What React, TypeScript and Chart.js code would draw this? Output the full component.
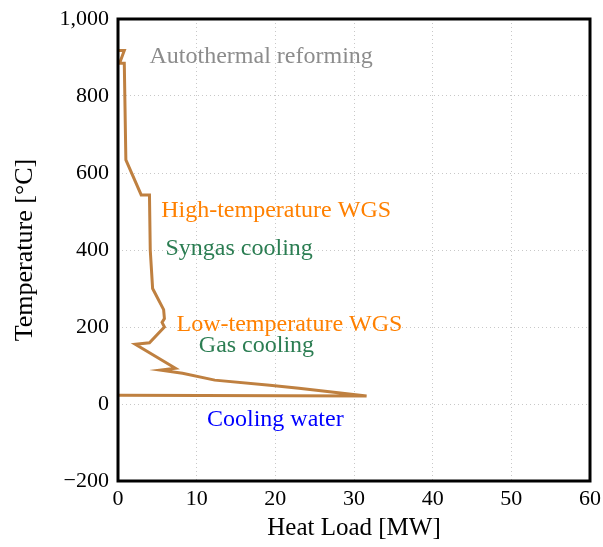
import React, { useEffect, useRef } from "react";
import { Chart, registerables } from "chart.js";

Chart.register(...registerables);

// Composite curve: heat load [MW] vs temperature [°C]
const heatLoad = [0.1, 0.8, 0.2, 0.8, 1.0, 2.95, 4.0, 4.1, 4.4, 5.8, 5.9, 5.6, 5.9, 4.0, 2.2, 7.3, 5.4, 8.2, 12.3, 19.3, 23.0, 31.6, 0.1];
const temperature = [918, 918, 885, 885, 634, 543, 543, 400, 300, 245, 222, 212, 200, 159, 155, 93, 88, 80, 62, 49, 41, 21, 23];

const xTicks = [0, 10, 20, 30, 40, 50, 60];
const yTicks = [-200, 0, 200, 400, 600, 800, 1000];

const labelTexts = ["Autothermal reforming", "High-temperature WGS", "Syngas cooling", "Low-temperature WGS", "Gas cooling", "Cooling water"];
const labelX = [18.2, 20.1, 15.4, 21.8, 17.6, 20.0];
const labelY = [901, 502, 403, 205, 151, -42];
const labelColors = ["#8c8c8c", "#ff8000", "#2b7d52", "#ff8000", "#2b7d52", "#0000ff"];

const FONT = "'Liberation Serif', 'DejaVu Serif', serif";

export default function App() {
  const ref = useRef<HTMLCanvasElement>(null);
  useEffect(() => {
    document.body.style.margin = "0";
    const canvas = ref.current!;
    const data = heatLoad.map((x, i) => ({ x, y: temperature[i] }));

    const annot = {
      id: "annot",
      afterDatasetsDraw(chart: any) {
        const { ctx, scales } = chart;
        ctx.save();
        ctx.font = `24px ${FONT}`;
        ctx.textAlign = "center";
        ctx.textBaseline = "middle";
        labelTexts.forEach((t, i) => {
          ctx.fillStyle = labelColors[i];
          ctx.fillText(t, scales.x.getPixelForValue(labelX[i]), scales.y.getPixelForValue(labelY[i]));
        });
        ctx.restore();
      },
      afterDraw(chart: any) {
        const { ctx, chartArea: a } = chart;
        ctx.save();
        ctx.strokeStyle = "#000";
        ctx.lineWidth = 3;
        ctx.strokeRect(a.left, a.top, a.right - a.left, a.bottom - a.top);
        ctx.restore();
      },
    };

    const chart = new Chart(canvas, {
      type: "scatter",
      data: {
        datasets: [
          {
            data,
            showLine: true,
            borderColor: "#bf8040",
            backgroundColor: "#bf8040",
            borderWidth: 3,
            pointRadius: 0,
            tension: 0,
          },
        ],
      },
      options: {
        animation: false,
        responsive: false,
        layout: { padding: { top: 19, right: 13, left: 10, bottom: 0 } },
        plugins: { legend: { display: false }, tooltip: { enabled: false } },
        scales: {
          x: {
            type: "linear",
            min: 0,
            max: 60,
            afterBuildTicks: (s: any) => { s.ticks = xTicks.map((v) => ({ value: v })); },
            afterFit: (s: any) => { s.height = 66; s.paddingLeft = 0; s.paddingRight = 0; },
            grid: { color: "#c8c8c8", drawTicks: false },
            border: { display: false, dash: [1, 3] },
            ticks: { color: "#000", font: { family: FONT, size: 22 }, padding: 5, maxRotation: 0 },
            title: { display: true, text: "Heat Load [MW]", color: "#000", font: { family: FONT, size: 25 }, padding: { top: 0 } },
          },
          y: {
            type: "linear",
            min: -200,
            max: 1000,
            afterBuildTicks: (s: any) => { s.ticks = yTicks.map((v) => ({ value: v })); },
            afterFit: (s: any) => { s.width = 108; s.paddingTop = 0; s.paddingBottom = 0; },
            grid: { color: "#c8c8c8", drawTicks: false },
            border: { display: false, dash: [1, 3] },
            ticks: {
              color: "#000",
              font: { family: FONT, size: 22 },
              padding: 9,
              callback: (v: any) => (v < 0 ? "\u2212" : "") + Math.abs(v).toLocaleString("en-US"),
            },
            title: { display: true, text: "Temperature [°C]", color: "#000", font: { family: FONT, size: 26 }, padding: { top: 0, bottom: 0 } },
          },
        },
      },
      plugins: [annot],
    });
    return () => chart.destroy();
  }, []);
  return <canvas ref={ref} width={603} height={547} style={{ display: "block" }} />;
}
